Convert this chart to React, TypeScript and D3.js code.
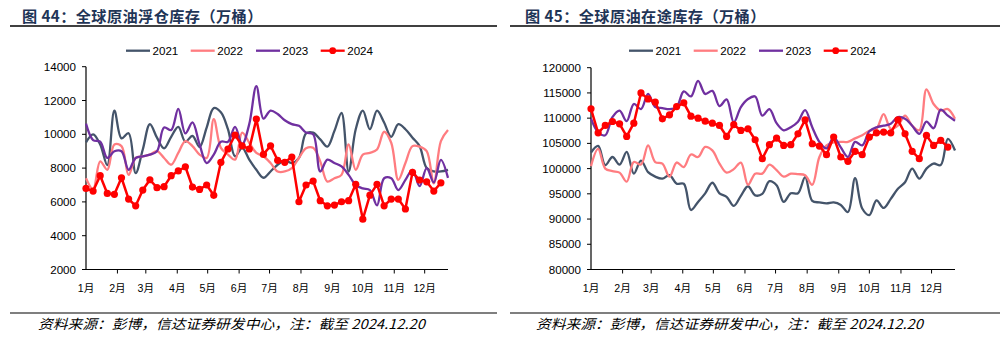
import React from 'react';
import * as d3 from 'd3';

const monthLabels = ['1月', '2月', '3月', '4月', '5月', '6月', '7月', '8月', '9月', '10月', '11月', '12月'];
const monthStartDays = [0, 31, 59, 90, 120, 151, 181, 212, 243, 273, 304, 334];
const years = ['2021', '2022', '2023', '2024'];

// 全球原油浮仓库存（万桶） weekly
const float2021 = [9525, 10000, 9400, 8180, 11400, 9760, 10060, 7700, 9100, 10600, 9800, 9170, 9850, 10440, 9560, 9900, 9250, 10400, 11550, 11300, 10300, 8700, 9200, 8500, 7900, 7430, 7800, 8200, 8450, 8300, 8600, 10050, 10100, 9700, 9270, 10200, 11260, 7800, 10300, 11400, 10300, 11400, 10700, 9850, 10600, 10300, 9800, 9300, 8000, 7800, 7800, 7900];
const float2022 = [7400, 6750, 8400, 7900, 9400, 9300, 7600, 8600, 8700, 8800, 9000, 8600, 8200, 8900, 9600, 9300, 8800, 8600, 10900, 9200, 8800, 8500, 10100, 9500, 8900, 8700, 8300, 7800, 7800, 8000, 8600, 9170, 9200, 8400, 7200, 7400, 7600, 9400, 7900, 8800, 8900, 9100, 10150, 9500, 7300, 8300, 9300, 9270, 9000, 7100, 9600, 10250];
const float2023 = [10630, 9660, 9560, 8600, 9000, 9000, 7900, 8600, 8700, 8800, 9000, 10400, 10250, 11500, 10050, 10700, 9400, 8300, 8800, 9560, 9560, 10440, 9400, 10600, 12850, 10930, 11400, 11200, 10830, 10600, 10500, 10100, 10000, 7800, 8500, 8300, 8100, 7600, 7000, 6800, 6700, 5800, 7400, 7400, 6700, 7300, 7900, 6930, 8000, 7150, 8490, 7420];
const float2024 = [6800, 6640, 7550, 6500, 6450, 7430, 6170, 5770, 6700, 7310, 6840, 6900, 7550, 7830, 8080, 6880, 6740, 7000, 6390, 8340, 9130, 9960, 9320, 9130, 10900, 8810, 9320, 8460, 8340, 8650, 6010, 7000, 7230, 6070, 5770, 5810, 6010, 6070, 7040, 4980, 6400, 7040, 5770, 6170, 6170, 5580, 7750, 7290, 7190, 6640, 7130];

// 全球原油在途库存（万桶） weekly
const transit2021 = [103200, 104500, 100700, 102300, 100800, 103300, 99000, 101600, 99300, 98400, 98000, 98700, 97000, 97000, 91800, 93400, 95100, 97200, 95100, 94400, 92600, 94600, 96500, 94700, 95000, 97500, 96700, 93400, 95100, 95100, 98300, 93600, 93300, 93100, 93300, 92800, 91400, 98100, 92100, 90800, 93700, 92200, 94000, 96000, 97300, 100000, 98000, 100000, 101000, 100700, 105900, 103600];
const transit2022 = [100500, 103900, 100000, 99500, 99200, 97400, 101300, 100800, 104600, 101300, 101000, 98400, 101200, 100300, 102800, 102300, 104300, 103600, 101000, 99200, 99900, 101200, 96800, 99000, 99000, 100800, 99700, 98400, 99000, 98900, 98700, 96800, 102300, 104600, 105200, 105300, 105300, 106000, 106600, 107500, 107900, 110800, 107900, 108500, 110500, 108500, 107600, 115700, 112800, 111500, 111800, 109900];
const transit2023 = [109900, 107200, 106600, 110200, 111500, 109400, 112800, 111800, 114800, 112200, 112000, 111800, 112200, 115300, 114300, 117400, 114800, 115400, 112400, 113700, 109200, 112200, 113800, 114300, 110500, 111800, 109000, 107600, 108200, 109300, 111600, 108200, 105300, 104000, 106200, 104200, 102300, 105300, 104600, 107400, 108200, 108500, 108900, 110200, 109900, 108500, 106900, 109300, 108000, 111700, 110500, 109500];
const transit2024 = [111840, 107100, 108550, 109340, 108880, 106380, 109000, 115000, 113820, 113160, 109870, 110650, 112300, 113030, 110390, 110000, 109400, 109000, 108550, 106380, 108700, 107560, 107900, 105720, 101970, 104740, 106050, 104600, 104740, 106900, 109670, 104930, 104470, 102760, 106250, 102300, 101450, 103420, 102760, 106250, 107100, 107240, 107100, 109670, 106900, 103420, 101970, 106580, 104600, 105590, 104270];

const leftTitle = '图 44：全球原油浮仓库存（万桶）';
const rightTitle = '图 45：全球原油在途库存（万桶）';
const sourceText = '资料来源：彭博，信达证券研发中心，注：截至 2024.12.20';
const leftYTicks = [2000, 4000, 6000, 8000, 10000, 12000, 14000];
const rightYTicks = [80000, 85000, 90000, 95000, 100000, 105000, 110000, 115000, 120000];

const COLORS = ['#44546A', '#FF7C80', '#7030A0', '#FF0000'];
const NUM_FONT = '"Liberation Sans", Arial, sans-serif';
const CJK_FONT = '"Liberation Sans", Arial, "Noto Sans CJK SC", sans-serif';

type PanelProps = {
  ox: number;
  srcX: number;
  title: string;
  xRange: [number, number];
  yRange: [number, number];
  yDomain: [number, number];
  yTicks: number[];
  series: number[][];
};

function Panel({ ox, srcX, title, xRange, yRange, yDomain, yTicks, series }: PanelProps) {
  const x = d3.scaleLinear().domain([0, 51]).range(xRange);
  const y = d3.scaleLinear().domain(yDomain).range(yRange);
  const smooth = d3.line<number>().x((_, i) => x(i)).y((d) => y(d)).curve(d3.curveCatmullRom.alpha(0.5));
  const straight = d3.line<number>().x((_, i) => x(i)).y((d) => y(d));
  const legendX = [126, 190.7, 256, 320.7].map((v) => v + ox);
  const lineEndX = ox < 100 ? 497 : 1000;
  const lineStartX = ox < 100 ? 10 : 510;
  return (
    <g>
      <text x={ox + 22} y={22} fontFamily={'"Noto Sans CJK SC", sans-serif'} fontWeight={700} fontSize={15.2} fill="#1F3557" letterSpacing={0.4}>
        {title}
      </text>
      <line x1={lineStartX} x2={lineEndX} y1={26} y2={26} stroke="#000" strokeWidth={1.3} />
      {years.map((yr, k) => (
        <g key={yr}>
          <line x1={legendX[k]} x2={legendX[k] + 24} y1={50.7} y2={50.7} stroke={COLORS[k]} strokeWidth={2.3} />
          {k === 3 && <circle cx={legendX[k] + 12} cy={50.7} r={3.4} fill={COLORS[3]} />}
          <text x={legendX[k] + 26.5} y={54.8} fontFamily={NUM_FONT} fontSize={11.6} fill="#000">
            {yr}
          </text>
        </g>
      ))}
      <line x1={xRange[0]} x2={xRange[0]} y1={yRange[1]} y2={yRange[0]} stroke="#000" strokeWidth={1.2} />
      <line x1={xRange[0]} x2={xRange[1]} y1={yRange[0]} y2={yRange[0]} stroke="#000" strokeWidth={1.2} />
      {yTicks.map((t) => (
        <g key={t}>
          <line x1={xRange[0] - 4} x2={xRange[0]} y1={y(t)} y2={y(t)} stroke="#000" strokeWidth={1} />
          <text x={xRange[0] - 10} y={y(t) + 4} textAnchor="end" fontFamily={NUM_FONT} fontSize={11.6} fill="#000">
            {t}
          </text>
        </g>
      ))}
      {monthStartDays.map((d, k) => {
        const px = x(d / 7);
        return (
          <g key={k}>
            {k > 0 && <line x1={px} x2={px} y1={yRange[0]} y2={yRange[0] + 4} stroke="#000" strokeWidth={1} />}
            <text x={px} y={292} textAnchor="middle" fontFamily={CJK_FONT} fontSize={10.6} fill="#000">
              {monthLabels[k]}
            </text>
          </g>
        );
      })}
      {series.slice(0, 3).map((s, k) => (
        <path key={k} d={smooth(s) || ''} fill="none" stroke={COLORS[k]} strokeWidth={2.3} strokeLinejoin="round" />
      ))}
      <path d={straight(series[3]) || ''} fill="none" stroke={COLORS[3]} strokeWidth={2.5} strokeLinejoin="round" />
      {series[3].map((v, i) => (
        <circle key={i} cx={x(i)} cy={y(v)} r={3.6} fill={COLORS[3]} />
      ))}
      <line x1={lineStartX} x2={lineEndX} y1={313} y2={313} stroke="#000" strokeWidth={1.2} />
      <text x={srcX} y={329} fontFamily={'"Noto Sans CJK SC", sans-serif'} fontStyle="italic" fontSize={13.5} fill="#000" textLength={387} lengthAdjust="spacingAndGlyphs">
        {sourceText}
      </text>
    </g>
  );
}

export default function App() {
  return (
    <svg width={1003} height={342} style={{ position: 'absolute', left: 0, top: 0, background: '#fff' }}>
      <rect x={0} y={0} width={1003} height={342} fill="#fff" />
      <Panel
        ox={0}
        srcX={38}
        title={leftTitle}
        xRange={[86, 448]}
        yRange={[269.5, 66.7]}
        yDomain={[2000, 14000]}
        yTicks={leftYTicks}
        series={[float2021, float2022, float2023, float2024]}
      />
      <Panel
        ox={503}
        srcX={536}
        title={rightTitle}
        xRange={[591, 955]}
        yRange={[269.5, 67.7]}
        yDomain={[80000, 120000]}
        yTicks={rightYTicks}
        series={[transit2021, transit2022, transit2023, transit2024]}
      />
    </svg>
  );
}
